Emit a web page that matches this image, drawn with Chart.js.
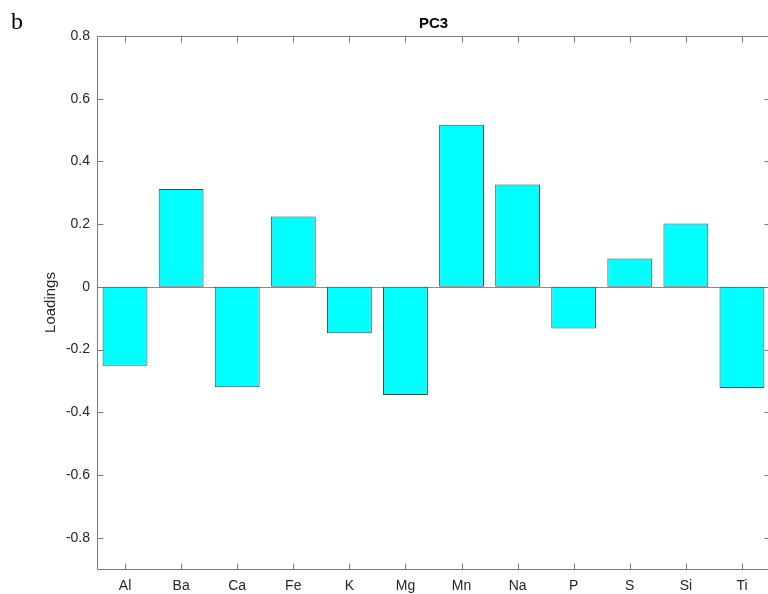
<!DOCTYPE html>
<html>
<head>
<meta charset="utf-8">
<title>PC3 loadings</title>
<script src="https://cdn.jsdelivr.net/npm/chart.js@4/dist/chart.umd.min.js"></script>
<style>
  html, body { margin: 0; padding: 0; background: #fff; overflow: hidden; width: 768px; height: 594px; }
  #wrap { position: relative; width: 768px; height: 594px; overflow: hidden; }
  canvas { display: block; }
</style>
</head>
<body>
<div id="wrap"><canvas id="chart" width="780" height="594" style="width:780px;height:594px"></canvas></div>
<script>
// Element names along the x axis
const elements = ['Al', 'Ba', 'Ca', 'Fe', 'K', 'Mg', 'Mn', 'Na', 'P', 'S', 'Si', 'Ti'];
// Third principal component loadings for each element
const pc3Loadings = [-0.252, 0.312, -0.320, 0.224, -0.148, -0.345, 0.517, 0.326, -0.133, 0.090, 0.202, -0.323];
// Y tick positions shown on the axis
const yTicks = [-0.8, -0.6, -0.4, -0.2, 0, 0.2, 0.4, 0.6, 0.8];
const yMin = -0.9;
const yMax = 0.8;

const AXIS_COLOR = '#7a7a7a';
const TEXT_COLOR = '#262626';
const TICK_LEN = 6;
const SANS = '"Liberation Sans", Arial, Helvetica, sans-serif';

// Draws the MATLAB-style box, inward ticks, zero baseline and the text labels
const boxAxes = {
  id: 'boxAxes',
  beforeDatasetsDraw(chart) {
    const { ctx, chartArea: a, scales: { y } } = chart;
    const y0 = Math.round(y.getPixelForValue(0)) + 0.5;
    ctx.save();
    ctx.strokeStyle = '#8a8a8a';
    ctx.lineWidth = 1;
    ctx.beginPath();
    ctx.moveTo(a.left, y0);
    ctx.lineTo(a.right, y0);
    ctx.stroke();
    ctx.restore();
  },
  afterDraw(chart) {
    const { ctx, chartArea: a, scales: { x, y } } = chart;
    const L = Math.round(a.left) + 0.5, R = Math.round(a.right) + 0.5;
    const T = Math.round(a.top) + 0.5, B = Math.round(a.bottom) + 0.5;
    ctx.save();
    ctx.strokeStyle = AXIS_COLOR;
    ctx.lineWidth = 1;
    ctx.beginPath();
    ctx.rect(L, T, R - L, B - T);
    // x ticks on bottom and top, pointing inward
    x.ticks.forEach((t, i) => {
      const px = Math.round(x.getPixelForTick(i)) + 0.5;
      ctx.moveTo(px, B); ctx.lineTo(px, B - TICK_LEN);
      ctx.moveTo(px, T); ctx.lineTo(px, T + TICK_LEN);
    });
    // y ticks on left and right, pointing inward
    y.ticks.forEach((t, i) => {
      const py = Math.round(y.getPixelForTick(i)) + 0.5;
      ctx.moveTo(L, py); ctx.lineTo(L + TICK_LEN, py);
      ctx.moveTo(R, py); ctx.lineTo(R - TICK_LEN, py);
    });
    ctx.stroke();

    // title
    ctx.fillStyle = '#000';
    ctx.font = 'bold 15px ' + SANS;
    ctx.textAlign = 'center';
    ctx.textBaseline = 'alphabetic';
    ctx.fillText('PC3', (a.left + a.right) / 2, 28);

    // y axis label
    ctx.fillStyle = TEXT_COLOR;
    ctx.font = '15px ' + SANS;
    ctx.translate(55, (a.top + a.bottom) / 2);
    ctx.rotate(-Math.PI / 2);
    ctx.textAlign = 'center';
    ctx.textBaseline = 'alphabetic';
    ctx.fillText('Loadings', 0, 0);
    ctx.setTransform(1, 0, 0, 1, 0, 0);

    // panel letter
    ctx.fillStyle = '#000';
    ctx.font = '24px "Liberation Serif", "Times New Roman", serif';
    ctx.textAlign = 'left';
    ctx.fillText('b', 11, 29);
    ctx.restore();
  }
};

new Chart(document.getElementById('chart'), {
  type: 'bar',
  data: {
    labels: elements,
    datasets: [{
      label: 'PC3',
      data: pc3Loadings,
      backgroundColor: '#00ffff',
      borderColor: '#2f4f4f',
      borderWidth: 1,
      borderSkipped: false,
      barPercentage: 0.8,
      categoryPercentage: 1.0
    }]
  },
  options: {
    responsive: false,
    animation: false,
    layout: { padding: { left: 0, top: 36, right: 10, bottom: 0 } },
    plugins: {
      legend: { display: false },
      title: { display: false },
      tooltip: { enabled: false }
    },
    scales: {
      x: {
        offset: true,
        grid: { display: false, drawTicks: false },
        border: { display: false },
        ticks: { color: TEXT_COLOR, font: { family: SANS, size: 14 }, padding: 9, maxRotation: 0 },
        afterFit(scale) { scale.height = 25; }
      },
      y: {
        min: yMin,
        max: yMax,
        grid: { display: false, drawTicks: false },
        border: { display: false },
        afterBuildTicks(scale) { scale.ticks = yTicks.map(v => ({ value: v })); },
        ticks: {
          color: TEXT_COLOR,
          font: { family: SANS, size: 14 },
          padding: 7,
          callback: v => String(Number(v.toFixed(1)))
        },
        afterFit(scale) { scale.width = 97; }
      }
    }
  },
  plugins: [boxAxes]
});
</script>
</body>
</html>
